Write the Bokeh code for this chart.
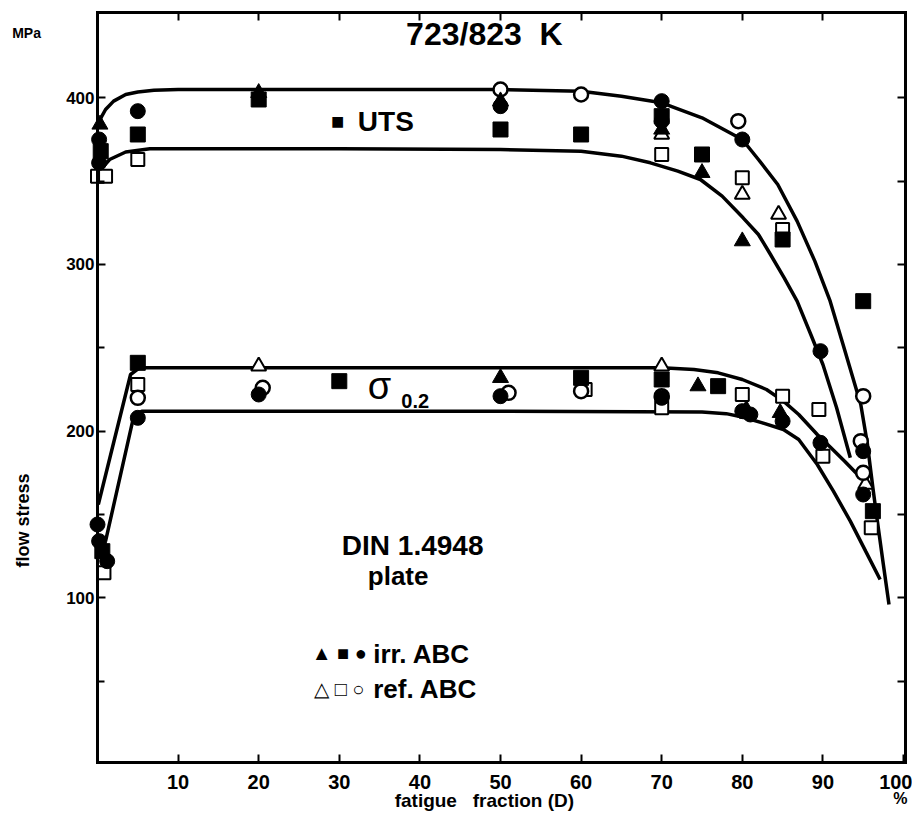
from bokeh.plotting import figure
from bokeh.models import LinearAxis, FixedTicker, Range1d
from bokeh.embed import file_html
from bokeh.resources import INLINE
from bokeh.core.properties import value
import math

# ---------------- data ----------------
x_ticks = [10, 20, 30, 40, 50, 60, 70, 80, 90, 100]
y_ticks = [100, 200, 300, 400]
y_minor_ticks = [50, 150, 250, 350]
top_ticks = [10, 20, 30, 40, 50, 60, 70, 80, 90]
right_ticks = [50, 100, 150, 200, 250, 300, 350, 400]

# fitted curves
uts_upper_x = [0.2, 1.0, 2.0, 3.5, 5.0, 7.0, 10, 30, 50, 60, 65, 70, 75, 80, 82, 84.4, 86.8, 89, 90.9, 92.5, 94.7, 95.5, 96.2, 96.7, 97.5, 98.2]
uts_upper_y = [386, 393, 398, 402, 403.5, 404.5, 405, 405, 405, 404, 401, 397, 388, 375, 363, 348, 326, 302, 278, 252, 216, 193, 166, 148, 120, 96]

uts_lower_x = [0.4, 1.5, 3.5, 6.5, 10, 30, 50, 60, 65, 68.6, 72, 74.8, 77.5, 80.1, 82, 83.5, 85.2, 86.8, 88.5, 90, 91.7, 93.4]
uts_lower_y = [357, 363, 367.5, 369.5, 369.5, 369.5, 369, 368, 365, 361, 356, 351, 341, 328, 318, 306, 292, 278, 258, 240, 214, 184]

sig_upper_x = [0.1, 4.1, 5.2, 10, 30, 50, 70, 74, 77, 80, 83, 85.1, 87, 89.3, 91, 92.7, 94.3, 95.3, 96.2]
sig_upper_y = [156, 234, 238, 238, 238, 238, 238, 237, 235, 231, 225, 218, 210, 198, 190, 182, 174, 170, 166]

sig_lower_x = [1.0, 4.5, 5.5, 10, 50, 75, 78, 80, 82.5, 85.1, 87, 89.3, 91.3, 93.4, 95.3, 97.1]
sig_lower_y = [134, 209, 212, 212, 212, 211.5, 210.5, 208.5, 205, 201, 195, 180, 164, 146, 128, 111]

# measured points: irradiated (filled) A=triangle, B=square, C=circle
irr_A_x = [0.3, 20, 50, 70, 75, 80, 50, 74.5, 80.5, 84.7]
irr_A_y = [384, 403, 398, 381, 355, 314, 232, 227, 213, 211]

irr_B_x = [0.4, 5, 20, 50, 60, 70, 75, 85, 95, 0.6, 5, 30, 60, 70, 77, 96.2]
irr_B_y = [368, 378, 399, 381, 378, 389, 366, 315, 278, 128, 241, 230, 232, 231, 227, 152]

irr_C_x = [0.2, 0.2, 5, 50, 70, 70, 80, 89.7, 0, 0.2, 1.2, 5, 20, 50, 70, 80, 81, 85, 89.7, 95, 95]
irr_C_y = [375, 361, 392, 395, 398, 386, 375, 248, 144, 134, 122, 208, 222, 221, 220, 212, 210, 206, 193, 188, 162]

# reference (open) A=triangle, B=square, C=circle
ref_A_x = [70, 80, 84.5, 20, 70, 95.3]
ref_A_y = [378, 342, 330, 239, 239, 168]

ref_B_x = [0, 1.0, 5, 70, 80, 85, 0.8, 5, 60.5, 70, 80, 85, 89.5, 90, 96]
ref_B_y = [353, 353, 363, 366, 352, 321, 115, 228, 225, 214, 222, 221, 213, 185, 142]

ref_C_x = [50, 60, 79.5, 95, 5, 20.5, 51, 60, 70, 94.7, 95]
ref_C_y = [405, 402, 386, 221, 220, 226, 223, 224, 221, 194, 175]

# ---------------- figure ----------------
FONT = "Liberation Sans"
W, H = 912, 811
ORIGIN_PX = (97, 764)          # pixel position of (0 %, 0 MPa)
SCALE = (8.06, 1.6667)         # pixels per unit
X_LIM = (0, 100.25)
Y_LIM = (1.2, 451.2)

x_range = Range1d(-ORIGIN_PX[0] / SCALE[0], (W - ORIGIN_PX[0]) / SCALE[0])
y_range = Range1d((ORIGIN_PX[1] - H) / SCALE[1], ORIGIN_PX[1] / SCALE[1])

p = figure(width=W, height=H, x_range=x_range, y_range=y_range,
           output_backend="svg", toolbar_location=None,
           x_axis_location=None, y_axis_location=None, min_border=0,
           background_fill_color="white", border_fill_color="white")
p.grid.visible = False
p.outline_line_color = None
if p.title is not None:
    p.title.visible = False


def make_axis(fixed, bounds, ticks, minor=None, labels=True, size="18px", standoff=3):
    ax = LinearAxis(fixed_location=fixed, bounds=bounds,
                    ticker=FixedTicker(ticks=ticks, minor_ticks=minor or []),
                    major_tick_in=8, major_tick_out=0, minor_tick_in=7, minor_tick_out=0,
                    axis_line_width=3, axis_line_cap="square",
                    major_tick_line_width=2, minor_tick_line_width=2,
                    major_label_standoff=standoff)
    if labels:
        ax.major_label_text_font = FONT
        ax.major_label_text_font_style = "bold"
        ax.major_label_text_font_size = size
        ax.major_label_text_color = "black"
    else:
        ax.major_label_text_color = None
    return ax


p.add_layout(make_axis(Y_LIM[0], X_LIM, x_ticks, size="20px", standoff=13), "below")
p.add_layout(make_axis(X_LIM[0], Y_LIM, y_ticks, minor=y_minor_ticks, size="17px", standoff=3), "left")
p.add_layout(make_axis(Y_LIM[1], X_LIM, top_ticks, labels=False), "above")
p.add_layout(make_axis(X_LIM[1], Y_LIM, right_ticks, labels=False), "right")

# curves
for cx, cy in [(uts_upper_x, uts_upper_y), (uts_lower_x, uts_lower_y),
               (sig_upper_x, sig_upper_y), (sig_lower_x, sig_lower_y)]:
    p.line(cx, cy, line_color="black", line_width=3.5)

# open (reference) markers
p.scatter(ref_A_x, ref_A_y, marker="triangle", size=15, fill_color="white", line_color="black", line_width=2)
p.scatter(ref_B_x, ref_B_y, marker="square", size=13, fill_color="white", line_color="black", line_width=2)
p.scatter(ref_C_x, ref_C_y, marker="circle", size=14, fill_color="white", line_color="black", line_width=2.5)
# filled (irradiated) markers
p.scatter(irr_A_x, irr_A_y, marker="triangle", size=16, fill_color="black", line_color="black")
p.scatter(irr_B_x, irr_B_y, marker="square", size=15, fill_color="black", line_color="black")
p.scatter(irr_C_x, irr_C_y, marker="circle", size=15, fill_color="black", line_color="black")


# ---------------- texts ----------------
def txt(x, y, s, size, align="center", style="bold", angle=0.0):
    p.text(x=[x], y=[y], text=[s], text_font=value(FONT), text_font_style=style,
           text_font_size=size, text_align=align, text_baseline="middle",
           text_color="black", angle=angle)


NB = "\u00a0"
txt(48.0, 438.5, "723/823" + NB + NB + "K", "32px")
txt(29.8, 385.5, "\u25a0", "22px")
txt(32.3, 385.5, "UTS", "28px", align="left")
txt(35.0, 227.0, "\u03c3", "38px", style="normal")
txt(37.7, 218.0, "0.2", "20px", align="left")
txt(39.1, 131.4, "DIN 1.4948", "28px")
txt(37.3, 113.0, "plate", "26px")
txt(30.0, 67.0, "\u25b2" + NB + "\u25a0" + NB + "\u25cf", "20px")
txt(34.2, 66.5, "irr. ABC", "26px", align="left")
txt(30.0, 45.5, "\u25b3" + NB + "\u25a1" + NB + "\u25cb", "20px", style="normal")
txt(34.2, 45.5, "ref. ABC", "26px", align="left")

txt(-8.8, 438.6, "MPa", "14px")
txt(-9.3, 146.4, "flow stress", "18px", angle=math.pi / 2)
txt(48.0, -21.6, "fatigue" + NB + NB + NB + "fraction (D)", "19px")
txt(99.6, -20.6, "%", "16px")

open("out.html", "w").write(file_html(p, INLINE))
